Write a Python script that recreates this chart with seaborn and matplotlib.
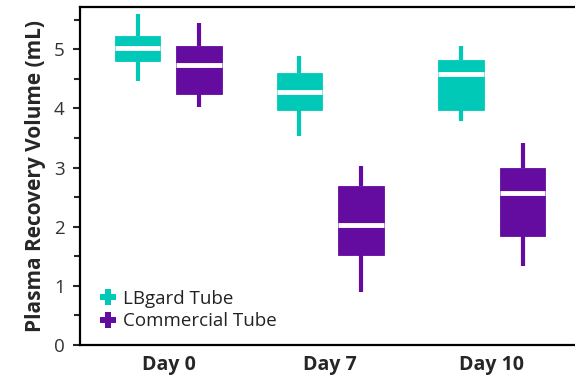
import numpy as np
import pandas as pd
import seaborn as sns
import matplotlib.pyplot as plt
from matplotlib.lines import Line2D
from matplotlib.ticker import MultipleLocator

# Study days and tube types
days = ["Day 0", "Day 7", "Day 10"]
tubes = ["LBgard Tube", "Commercial Tube"]

# Five-number summaries per day (min, Q1, median, Q3, max), plasma volume in mL
lbgard_stats = [
    [4.46, 4.81, 5.02, 5.23, 5.60],
    [3.54, 3.97, 4.28, 4.60, 4.88],
    [3.79, 3.97, 4.59, 4.82, 5.06],
]
commercial_stats = [
    [4.03, 4.24, 4.74, 5.06, 5.44],
    [0.89, 1.52, 2.03, 2.69, 3.02],
    [1.34, 1.84, 2.57, 3.00, 3.41],
]

tube_colors = {"LBgard Tube": "#00C9B7", "Commercial Tube": "#640CA0"}

rows = []
for tube, stats in zip(tubes, [lbgard_stats, commercial_stats]):
    for day, values in zip(days, stats):
        for v in values:
            rows.append({"Day": day, "Tube": tube, "Volume": v})
df = pd.DataFrame(rows)

sns.set_style("white")
plt.rcParams["font.family"] = ["Open Sans", "DejaVu Sans"]

fig = plt.figure(figsize=(5.75, 3.76), dpi=100)
ax = fig.add_axes([80 / 575, 31 / 376, 495 / 575, 338 / 376])

sns.boxplot(
    data=df, x="Day", y="Volume", hue="Tube",
    order=days, hue_order=tubes, palette=tube_colors,
    width=0.76, gap=0.26, whis=(0, 100), showcaps=False,
    saturation=1, linewidth=0.6, legend=False,
    medianprops=dict(color="white", linewidth=3.5, solid_capstyle="butt"),
    whiskerprops=dict(linewidth=3.0, solid_capstyle="butt"),
    ax=ax,
)

# Give each box's whiskers and outline the fill colour of that box
boxes = [p for p in ax.patches]
for box in boxes:
    box.set_edgecolor(box.get_facecolor())
for line in ax.lines:
    xd = np.asarray(line.get_xdata(), dtype=float)
    if xd.size == 0:
        continue
    if line.get_color() == "white":
        continue
    xc = xd.mean()
    for box in boxes:
        ext = box.get_path().get_extents()
        if ext.x0 - 1e-6 <= xc <= ext.x1 + 1e-6:
            line.set_color(box.get_facecolor())
            break

ax.set_xlim(-0.547, 2.514)
ax.set_ylim(0, 5.715)
ax.set_yticks(range(6))
ax.yaxis.set_minor_locator(MultipleLocator(0.5))

for side in ["left", "bottom", "top"]:
    ax.spines[side].set_visible(True)
    ax.spines[side].set_color("black")
    ax.spines[side].set_linewidth(1.6)
ax.spines["right"].set_visible(False)

ax.tick_params(axis="y", which="major", length=5, width=1.5, direction="out",
               left=True, labelsize=13.5, labelcolor="#333333", pad=6)
ax.tick_params(axis="y", which="minor", length=4, width=1.5, direction="out", left=True)
ax.tick_params(axis="x", length=0, labelsize=14, pad=7)
for lbl in ax.get_xticklabels():
    lbl.set_fontweight("bold")

ax.set_xlabel("")
ax.set_ylabel("Plasma Recovery Volume (mL)", fontsize=15, fontweight="bold", labelpad=6)

handles = [Line2D([], [], marker="P", linestyle="", markersize=11,
                  color=tube_colors[t], markeredgewidth=0) for t in tubes]
ax.legend(handles, tubes, loc="lower left", bbox_to_anchor=(0.015, 0.01),
          frameon=False, fontsize=13.5, handletextpad=0.3, labelspacing=0.25,
          handlelength=1.0, borderaxespad=0.2, labelcolor="#222222")

fig.savefig("out.png", dpi=100)
